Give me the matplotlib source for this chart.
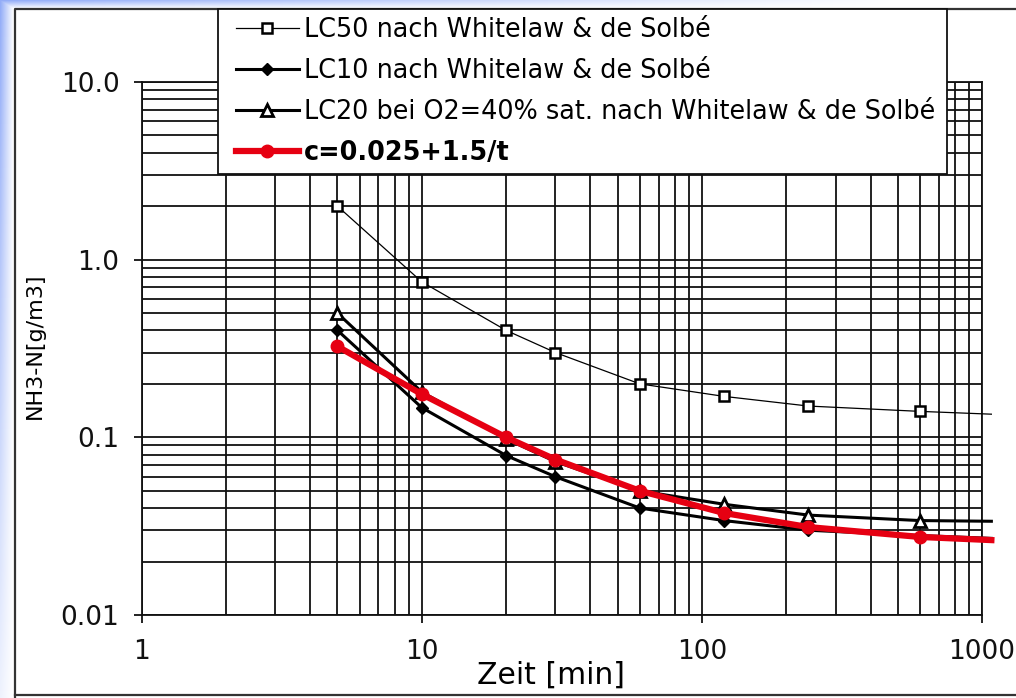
import numpy as np
import matplotlib
matplotlib.use("Agg")
import matplotlib.pyplot as plt
from matplotlib.patches import Rectangle
from matplotlib.ticker import FixedLocator, FixedFormatter, LogLocator, NullFormatter

# ---- data ----
t_lc50 = [5, 10, 20, 30, 60, 120, 240, 600, 1080]
c_lc50 = [2.0, 0.75, 0.40, 0.30, 0.20, 0.17, 0.15, 0.14, 0.135]

t_lc10 = [5, 10, 20, 30, 60, 120, 240, 600, 1080]
c_lc10 = [0.40, 0.147, 0.079, 0.060, 0.040, 0.034, 0.030, 0.028, 0.027]

t_lc20 = [5, 10, 20, 30, 60, 120, 240, 600, 1080]
c_lc20 = [0.50, 0.18, 0.098, 0.073, 0.050, 0.042, 0.0365, 0.034, 0.0337]

t_fit = [5, 10, 20, 30, 60, 120, 240, 600, 1080]
c_fit = [0.325, 0.175, 0.100, 0.075, 0.050, 0.0375, 0.03125, 0.0275, 0.0264]

labels = ["LC50 nach Whitelaw & de Solbé",
          "LC10 nach Whitelaw & de Solbé",
          "LC20 bei O2=40% sat. nach Whitelaw & de Solbé",
          "c=0.025+1.5/t"]

x_ticks = [1, 10, 100, 1000]
x_ticklabels = ["1", "10", "100", "1000"]
y_ticks = [0.01, 0.1, 1.0, 10.0]
y_ticklabels = ["0.01", "0.1", "1.0", "10.0"]

W, H = 1016, 698
FS = 19
LFS = 18.4
plt.rcParams['font.family'] = ['DejaVu Sans']

fig = plt.figure(figsize=(W / 100, H / 100), dpi=100)

# background gradient (decoration)
bg = fig.add_axes([0, 0, 1, 1], zorder=-10)
bg.set_axis_off()
yy, xx = np.mgrid[0:H, 0:W].astype(float)
a_left = np.clip(1 - xx / 13.0, 0, 1) * (1 - 0.85 * yy / H)
a_top = np.clip(1 - yy / 8.0, 0, 1) * np.clip(1 - xx / 900.0, 0, 1)
a = np.maximum(a_left, a_top)[..., None]
blue = np.array([0.58, 0.68, 0.97])
img = (1 - a) * np.ones(3) + a * blue
bg.imshow(img, extent=[0, W, H, 0], aspect='auto')
bg.set_xlim(0, W)
bg.set_ylim(H, 0)
# outer frame
bg.plot([15, 15, W + 5], [H + 5, 9, 9], color='#333333', lw=1.6)
bg.plot([15, W + 5], [695, 695], color='#333333', lw=1.6)

ax = fig.add_axes([141.7 / W, 1 - 615 / H, (982 - 141.7) / W, (615 - 82) / H])
ax.set_xscale('log')
ax.set_yscale('log')
ax.set_xlim(1, 1000)
ax.set_ylim(0.01, 10)

ax.xaxis.set_major_locator(FixedLocator(x_ticks))
ax.xaxis.set_major_formatter(FixedFormatter(x_ticklabels))
ax.yaxis.set_major_locator(FixedLocator(y_ticks))
ax.yaxis.set_major_formatter(FixedFormatter(y_ticklabels))
ax.xaxis.set_minor_locator(LogLocator(base=10, subs=np.arange(2, 10)))
ax.yaxis.set_minor_locator(LogLocator(base=10, subs=np.arange(2, 10)))
ax.xaxis.set_minor_formatter(NullFormatter())
ax.yaxis.set_minor_formatter(NullFormatter())
ax.grid(True, which='both', color='#111111', lw=1.3)
ax.tick_params(which='major', direction='out', length=6, width=1.3,
               labelsize=FS, colors='#111111', pad=10)
ax.tick_params(axis='x', which='major', pad=11)
ax.tick_params(which='minor', length=0)
for s in ax.spines.values():
    s.set_color('#111111')
    s.set_linewidth(1.3)

n = len(t_fit) - 1
l1, = ax.plot(t_lc50, c_lc50, color='black', lw=0.9, marker='s', ms=7,
              mfc='white', mec='black', mew=1.8, markevery=list(range(n)),
              clip_on=False, zorder=3)
l2, = ax.plot(t_lc10, c_lc10, color='black', lw=2.2, marker='D', ms=6.5,
              mfc='black', mec='black', markevery=list(range(n)),
              clip_on=False, zorder=4)
l3, = ax.plot(t_lc20, c_lc20, color='black', lw=2.2, marker='^', ms=8.5,
              mfc='white', mec='black', mew=2.0, markevery=list(range(n)),
              clip_on=False, zorder=4)
l4, = ax.plot(t_fit, c_fit, color='#e60012', lw=4.5, marker='o', ms=9,
              mfc='#e60012', mec='#e60012', markevery=list(range(n)),
              clip_on=False, zorder=5)

ax.set_xlabel("Zeit [min]", fontsize=21.5)
ax.xaxis.set_label_coords((551 - 141.7) / (982 - 141.7), (615 - 675) / (615 - 82))
ax.xaxis.label.set_va('center')
ax.set_ylabel("NH3-N[g/m3]", fontsize=16)
ax.yaxis.set_label_coords((35 - 141.7) / (982 - 141.7), (615 - 346) / (615 - 82))
ax.yaxis.label.set_va('center')

# legend frame (drawn separately so the box matches the reference)
frame = Rectangle((218 / W, 1 - 174 / H), (947 - 218) / W, (174 - 9) / H,
                  transform=fig.transFigure, facecolor='white',
                  edgecolor='#111111', lw=1.3, zorder=9)
fig.add_artist(frame)

leg = fig.legend([l1, l2, l3, l4], labels, loc='upper left',
                 bbox_to_anchor=(236 / W, 1 - 17 / H), bbox_transform=fig.transFigure,
                 borderaxespad=0, borderpad=0, fontsize=LFS, handlelength=2.45,
                 handletextpad=0.22, labelspacing=0.59, frameon=False)
leg.set_zorder(10)
leg.get_texts()[3].set_fontweight('bold')

fig.savefig("out.png", dpi=100)
